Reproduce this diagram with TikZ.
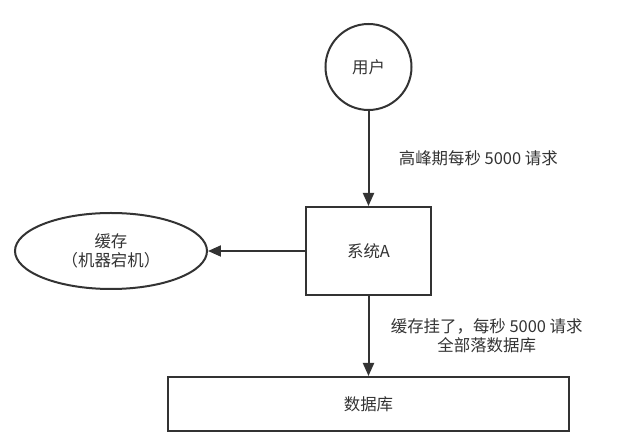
\documentclass[tikz,border=0pt]{standalone}
\usepackage{fontspec}
\newfontfamily\cjk{Noto Sans CJK SC}
\usetikzlibrary{arrows.meta,positioning,shapes.geometric}
\usepackage{xcolor}
\definecolor{ink}{HTML}{333333}

\begin{document}
\begin{tikzpicture}[
    x=1bp, y=1bp,
    line width=2bp,
    box/.style={draw, color=ink, text=ink, font=\cjk\fontsize{16.5}{19}\selectfont, align=center},
    note/.style={font=\cjk\fontsize{16.5}{19}\selectfont, text=ink, align=center},
    arrow/.style={-{Triangle[length=13bp, width=11bp]}, color=ink},
]
\useasboundingbox (-368.5,-190) rectangle (261.5,251);

% System box
\node[box, minimum width=125bp, minimum height=88bp] (sys) at (0,0) {系统A};

% User circle
\node[box, circle, minimum size=86bp, above=95bp of sys] (user) {用户};

% Cache ellipse
\node[box, ellipse, minimum width=192bp, minimum height=76bp, left=97bp of sys] (cache) {缓存\\（机器宕机）};

% Database box
\node[box, minimum width=401bp, minimum height=54bp, below=80bp of sys] (db) {数据库};

% Connection arrows
\draw[arrow] (user) -- (sys)
    node[midway, right=26bp, note] {高峰期每秒 5000 请求};

\draw[arrow] (sys) -- (cache);

\draw[arrow] (sys) -- (db)
    node[midway, right=18bp, note] {缓存挂了，每秒 5000 请求\\全部落数据库};

\end{tikzpicture}
\end{document}
